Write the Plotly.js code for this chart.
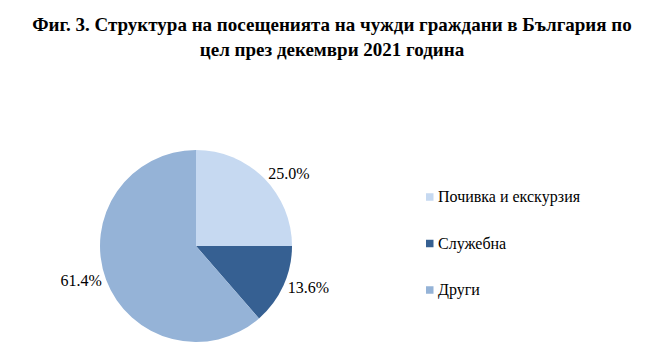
<!DOCTYPE html>
<html>
<head>
<meta charset="utf-8">
<script src="https://cdn.plot.ly/plotly-3.0.1.min.js"></script>
<style>html,body{margin:0;padding:0;background:#fff;}#chart{width:664px;height:356px;}</style>
</head>
<body>
<div id="chart"></div>
<script>
const titleText = 'Фиг. 3. Структура на посещенията на чужди граждани в България по<br>цел през декември 2021 година';
const categories = ['Почивка и екскурзия', 'Служебна', 'Други'];
const shares = [25.0, 13.6, 61.4];
const colors = ['#c6d9f1', '#366092', '#95b3d7'];

const W = 664, H = 356;
const FONT = 'Liberation Serif, Times New Roman, serif';

// Legend layout (paper px)
const legX = 426, legY0 = 197, legStep = 46.5, sq = 7.5;
const shapes = [], annotations = [];
categories.forEach((c, i) => {
  const cy = legY0 + i * legStep;
  shapes.push({type: 'rect', xref: 'paper', yref: 'paper',
    x0: legX / W, x1: (legX + sq) / W, y0: 1 - (cy + sq / 2) / H, y1: 1 - (cy - sq / 2) / H,
    fillcolor: colors[i], line: {width: 0}});
  annotations.push({xref: 'paper', yref: 'paper', x: (legX + sq + 2) / W, y: 1 - cy / H,
    xanchor: 'left', yanchor: 'middle', showarrow: false, text: c,
    font: {family: FONT, size: 16, color: '#000'}});
});

const trace = {
  type: 'pie',
  labels: categories,
  values: shares,
  sort: false,
  direction: 'clockwise',
  rotation: 0,
  marker: {colors: colors, line: {width: 0}},
  textposition: 'outside',
  texttemplate: '%{percent:.1%}',
  textfont: {family: FONT, size: 16, color: '#000'},
  hoverinfo: 'label+percent',
  showlegend: false,
  domain: {x: [100 / W, 292 / W], y: [1 - 342 / H, 1 - 150 / H]}
};

const layout = {
  width: W, height: H,
  margin: {l: 0, r: 0, t: 0, b: 0},
  paper_bgcolor: '#fff', plot_bgcolor: '#fff',
  title: {text: '<b>' + titleText + '</b>', x: 0.5, xanchor: 'center', y: 1 - 31 / H, yanchor: 'top',
    font: {family: FONT, size: 19, color: '#000'}},
  showlegend: false,
  shapes: shapes,
  annotations: annotations
};

Plotly.newPlot('chart', [trace], layout, {displayModeBar: false, staticPlot: true});
</script>
</body>
</html>
